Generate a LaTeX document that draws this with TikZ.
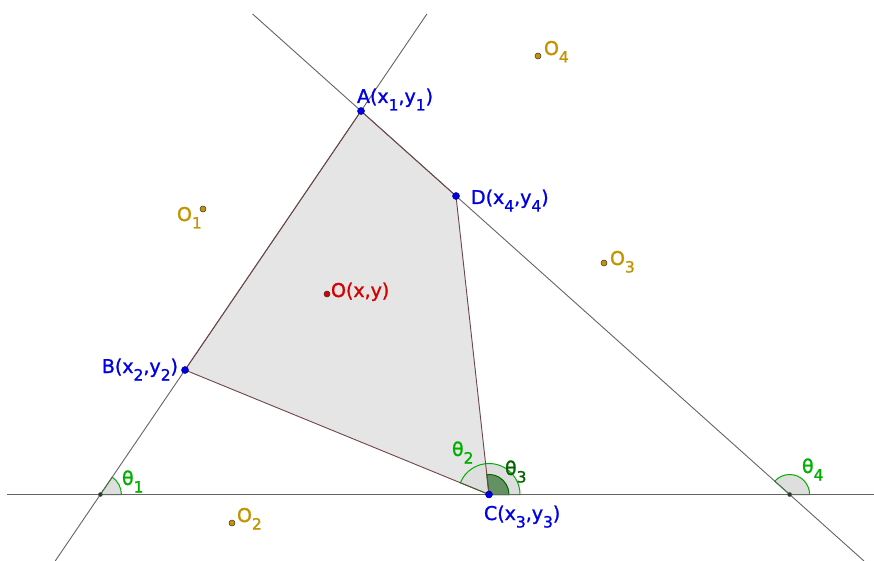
\documentclass[tikz,border=0pt]{standalone}
\usepackage{fontspec}
\setmainfont[FakeBold=1.3]{DejaVu Sans}
\definecolor{ptblue}{RGB}{0,0,230}
\definecolor{ptgold}{RGB}{196,148,0}
\definecolor{ptred}{RGB}{214,0,0}
\definecolor{anggreen}{RGB}{0,175,0}
\definecolor{darkgreen}{RGB}{0,100,0}
\definecolor{linegray}{RGB}{100,100,100}
\definecolor{edgebrown}{RGB}{110,70,70}
\definecolor{polyfill}{RGB}{229,229,229}
\definecolor{sectfill}{RGB}{222,222,222}
\definecolor{sectdark}{RGB}{100,145,100}
\newcommand\sbx[1]{\raisebox{-7.5pt}{\fontsize{15.5}{15.5}\selectfont #1}}
\begin{document}
\begin{tikzpicture}[x=1pt,y=-1pt,
  every node/.style={font=\fontsize{19}{19}\selectfont, inner sep=0pt, outer sep=0pt},
  lbl/.style={anchor=base west},
  lblr/.style={anchor=base east},
  gline/.style={draw=linegray, line width=0.9pt},
  polyedge/.style={draw=edgebrown, line width=0.9pt},
  sector/.style={fill=sectfill, draw=anggreen, line width=1pt},
  sectord/.style={fill=sectdark, draw=darkgreen, line width=1pt},
  dotpt/.style={circle, minimum size=#1, draw=black!70, line width=0.5pt},
  dotpt/.default=7pt]
\useasboundingbox (0,0) rectangle (874,561);
% geometry
\coordinate (A) at (361,111);
\coordinate (D) at (456,196);
\coordinate (B) at (185,370);
\coordinate (C) at (489,494.5);
\coordinate (P1) at (100.4,494.5);
\coordinate (P4) at (789.6,494.5);
\coordinate (Ltop1) at (426.9,14);
\coordinate (Lbot1) at (55.2,561);
\coordinate (Ltop2) at (252.6,14);
\coordinate (Lbot2) at (864,561);
\coordinate (Hl) at (7,494.5);
\coordinate (Hr) at (874,494.5);
% polygon fill
\fill[polyfill] (A) -- (D) -- (C) -- (B) -- cycle;
% angle sectors
\filldraw[sector] (P1) -- ++(0:21pt) arc[start angle=0, end angle=55.8, radius=21pt] -- cycle;
\filldraw[sector] (C) -- ++(0:31pt) arc[start angle=0, end angle=157.7, radius=31pt] -- cycle;
\filldraw[sectord] (C) -- ++(0:20pt) arc[start angle=0, end angle=96.3, radius=20pt] -- cycle;
\filldraw[sector] (P4) -- ++(0:20pt) arc[start angle=0, end angle=138.2, radius=20pt] -- cycle;
% lines
\draw[gline] (Hl) -- (Hr);
\draw[gline] (Ltop1) -- (Lbot1);
\draw[gline] (Ltop2) -- (Lbot2);
% polygon edges
\draw[polyedge] (A) -- (D) -- (C) -- (B) -- cycle;
% points
\node[dotpt=4pt, fill=black!80] (p1) at (P1) {};
\node[dotpt=4pt, fill=black!80] (p4) at (P4) {};
\node[dotpt, fill=ptblue, draw=ptblue!60!black] (a) at (A) {};
\node[dotpt, fill=ptblue, draw=ptblue!60!black] (d) at (D) {};
\node[dotpt, fill=ptblue, draw=ptblue!60!black] (b) at (B) {};
\node[dotpt, fill=ptblue, draw=ptblue!60!black] (c) at (C) {};
\node[dotpt=6pt, fill=ptred, draw=black!80] (o) at (327,294) {};
\node[dotpt=6pt, fill=ptgold, draw=black!80] (o1) at (203,209) {};
\node[dotpt=6pt, fill=ptgold, draw=black!80] (o2) at (232,523) {};
\node[dotpt=6pt, fill=ptgold, draw=black!80] (o3) at (604,263) {};
\node[dotpt=6pt, fill=ptgold, draw=black!80] (o4) at (538,56) {};
% labels
\node[lbl, text=ptblue] (la) at (357,103) {A(x\sbx{1},y\sbx{1})};
\node[lbl, text=ptblue] (ld) at (471,204) {D(x\sbx{4},y\sbx{4})};
\node[lblr, text=ptblue] (lb) at (178,373) {B(x\sbx{2},y\sbx{2})};
\node[lbl, text=ptblue] (lc) at (484,520) {C(x\sbx{3},y\sbx{3})};
\node[lbl, text=ptred] (lo) at (331,297) {O(x,y)};
\node[lbl, text=ptgold] (lo1) at (177,221) {O\sbx{1}};
\node[lbl, text=ptgold] (lo2) at (237,522) {O\sbx{2}};
\node[lbl, text=ptgold] (lo3) at (610,265) {O\sbx{3}};
\node[lbl, text=ptgold] (lo4) at (544,55) {O\sbx{4}};
\node[lbl, text=anggreen] (t1) at (122,485) {θ\sbx{1}};
\node[lbl, text=anggreen] (t2) at (452,456) {θ\sbx{2}};
\node[lbl, text=darkgreen] (t3) at (505,475) {θ\sbx{3}};
\node[lbl, text=anggreen] (t4) at (802,473) {θ\sbx{4}};
\end{tikzpicture}
\end{document}
